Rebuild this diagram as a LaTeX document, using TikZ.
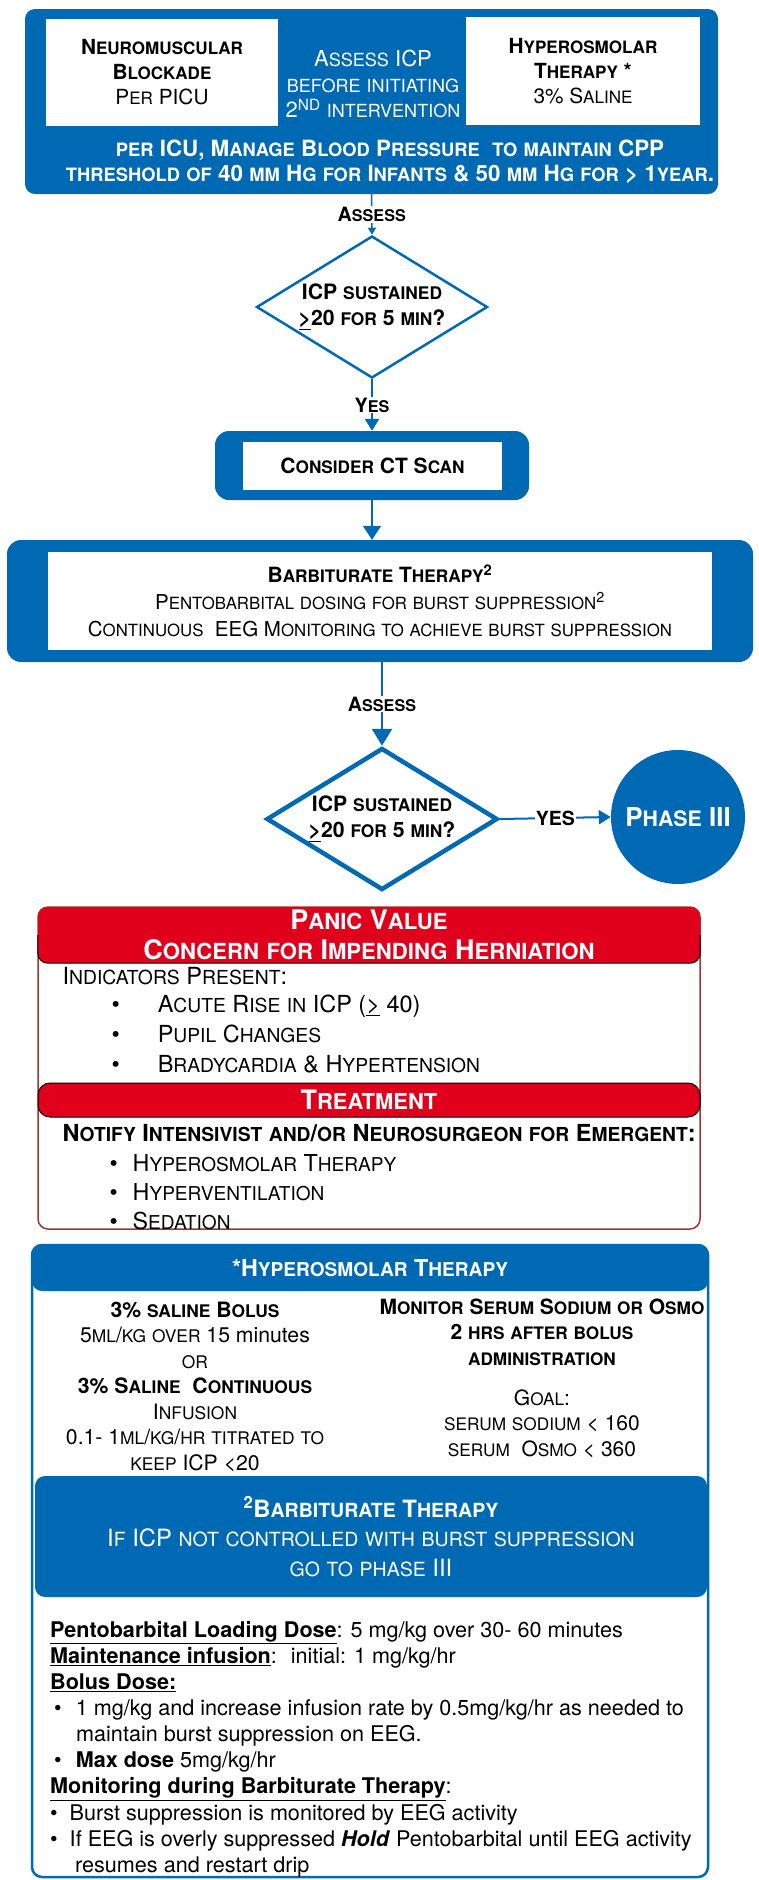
\documentclass[tikz,border=0pt]{standalone}
\usepackage{fontspec}
\setmainfont{TeX Gyre Heros}
\usepackage{tikz}
\usetikzlibrary{arrows.meta, positioning, shapes.geometric, calc}
\definecolor{icpblue}{HTML}{0069B4}
\definecolor{panicred}{HTML}{E0001B}
\definecolor{panicedge}{HTML}{A0342E}

\newcommand{\fsz}[2]{\fontsize{#1}{#2}\selectfont}
% small capitals made from scaled capitals
\newcommand{\smallsc}[1]{{\fontsize{\fpeval{0.82*\csname f@size\endcsname}}{\csname f@baselineskip\endcsname}\selectfont\MakeUppercase{#1}}}
\ExplSyntaxOn
\tl_new:N \l__icp_in_tl
\tl_new:N \l__icp_out_tl
\NewDocumentCommand \fsc { m }
  {
    \tl_set:Nn \l__icp_in_tl {#1}
    \tl_replace_all:Nnn \l__icp_in_tl { ~ } { \space }
    \tl_clear:N \l__icp_out_tl
    \tl_map_inline:Nn \l__icp_in_tl
      {
        \tl_if_single_token:nTF {##1}
          {
            \str_if_in:nnTF { abcdefghijklmnopqrstuvwxyz } {##1}
              { \tl_put_right:Nn \l__icp_out_tl { \smallsc {##1} } }
              { \tl_put_right:Nn \l__icp_out_tl {##1} }
          }
          { \tl_put_right:Nn \l__icp_out_tl { {##1} } }
      }
    \tl_use:N \l__icp_out_tl
  }
\ExplSyntaxOff

\begin{document}
\begin{tikzpicture}[x=1pt, y=-1pt,
    bluebox/.style={fill=icpblue, rounded corners=10pt, inner sep=0pt},
    whitebox/.style={fill=white, inner sep=0pt, align=center},
    lbl/.style={fill=white, inner sep=1pt, font=\fsz{19.7}{22}\bfseries},
    decision/.style={diamond, draw=icpblue, fill=white, aspect=1.63, inner sep=0pt,
        minimum width=231pt, minimum height=142pt, align=center,
        font=\fsz{21.2}{26}\bfseries},
    link/.style={draw=icpblue, line width=2pt},
    redhead/.style={fill=panicred, rounded corners=10pt, inner sep=0pt}]
    \useasboundingbox (0,0) rectangle (759,1880);

    % Top box
    \node[bluebox, minimum width=693pt, minimum height=185pt] (topbox) at (371.5,101.5) {};
    \node[whitebox, minimum width=232pt, minimum height=107pt, font=\fsz{20.8}{25}] (nmb) at (162,72.5)
        {\textbf{\fsc{Neuromuscular}}\\\textbf{\fsc{Blockade}}\\\fsc{Per PICU}};
    \node[whitebox, minimum width=234pt, minimum height=108pt, font=\fsz{20.8}{25}] (hyper) at (583,71)
        {\textbf{\fsc{Hyperosmolar}}\\\textbf{\fsc{Therapy *}}\\\fsc{3\% Saline}};
    \node[text=white, align=center, font=\fsz{22}{25.5}] (icp) at (373,84)
        {\fsc{Assess ICP\\before initiating\\2\textsuperscript{ND} intervention}};
    \node[text=white, align=center, font=\fsz{22.4}{25}\bfseries] (cpp) at (390,162)
        {\fsc{per ICU, Manage Blood Pressure \ to maintain CPP\\threshold of 40 mm Hg for Infants \& 50 mm Hg for > 1year.}};

    % First check
    \node[decision, line width=2.5pt] (dia1) at (372,307) {\fsc{ICP sustained\\\underline{>}20 for 5 min?}};
    \draw[link, line width=1.5pt, -{Triangle[width=8pt,length=7pt]}] (topbox.south) -- (dia1.north)
        node[lbl, midway] {\fsc{Assess}};

    % CT scan
    \node[bluebox, rounded corners=14pt, minimum width=314pt, minimum height=69pt] (ct) at (372,465.5) {};
    \node[whitebox, minimum width=259pt, minimum height=48pt, font=\fsz{21}{24}\bfseries] (ctin) at (372.5,466)
        {\fsc{Consider CT Scan}};
    \draw[link, line width=2.5pt, -{Triangle[width=14pt,length=12pt]}] (dia1.south) -- (ct.north)
        node[lbl, midway] {\fsc{Yes}};

    % Barbiturate therapy
    \node[bluebox, rounded corners=14pt, minimum width=746pt, minimum height=122pt] (barb) at (380,601) {};
    \node[whitebox, minimum width=664pt, minimum height=98pt, font=\fsz{20.5}{27}] (barbin) at (380,601)
        {\textbf{\fsz{21}{27}\fsc{Barbiturate Therapy}\textsuperscript{2}}\\\fsc{Pentobarbital dosing for burst suppression}\textsuperscript{2}\\
         \fsc{Continuous \ EEG Monitoring to achieve burst suppression}};
    \draw[link, line width=2pt, -{Triangle[width=18pt,length=14pt]}] (ct.south) -- (ct.south |- barb.north);

    % Second check
    \node[decision, line width=4.5pt] (dia2) at (382,819) {\fsc{ICP sustained\\\underline{>}20 for 5 min?}};
    \draw[link, line width=2.5pt, -{Triangle[width=20pt,length=17pt]}] (dia2 |- barb.south) -- (dia2.north)
        node[lbl, midway] {\fsc{Assess}};
    \node[circle, fill=icpblue, minimum size=134pt, inner sep=0pt, text=white,
        font=\fsz{26}{30}\bfseries] (phase) at (678,817) {\fsc{Phase III}};
    \draw[link, line width=2pt, -{Triangle[width=14pt,length=12pt]}] (dia2.east) -- (phase.west)
        node[fill=white, inner sep=1pt, midway, font=\fsz{19.5}{22}\bfseries] {YES};

    % Panic value
    \node[draw=panicedge, fill=white, line width=1.5pt, rounded corners=10pt,
        minimum width=662pt, minimum height=322pt] (panic) at (369,1068) {};
    \node[redhead, minimum width=662pt, minimum height=56pt, text=white, align=center,
        font=\fsz{27}{30}\bfseries] (panichead) at (369,935)
        {\fsc{Panic Value\\Concern for Impending Herniation}};
    \draw[black, line width=1pt, rounded corners=10pt] (panichead.west) |- (panichead.south) -| (panichead.east);
    \node[anchor=west, font=\fsz{23.6}{30}] (indic) at (59,976) {\fsc{Indicators Present:}};
    \node[anchor=west, align=left, font=\fsz{23.5}{30}] (signs) at (108,1034)
        {\textbullet\hspace{38pt}\fsc{Acute Rise in ICP (\underline{>} 40)}\\
         \textbullet\hspace{38pt}\fsc{Pupil Changes}\\
         \textbullet\hspace{38pt}\fsc{Bradycardia \& Hypertension}};
    \node[redhead, draw=black, line width=1pt, rounded corners=12pt, minimum width=662pt, minimum height=34pt,
        text=white, font=\fsz{26.8}{28}\bfseries] (treat) at (369,1100) {\fsc{Treatment}};
    \node[anchor=west, font=\fsz{23.5}{29}\bfseries] (notify) at (59,1133)
        {\fsc{Notify Intensivist and/or Neurosurgeon for Emergent:}};
    \node[anchor=west, align=left, font=\fsz{23.3}{29}] (steps) at (106,1192)
        {\textbullet\hspace{15pt}\fsc{Hyperosmolar Therapy}\\
         \textbullet\hspace{15pt}\fsc{Hyperventilation}\\
         \textbullet\hspace{15pt}\fsc{Sedation}};

    % Hyperosmolar therapy notes
    \node[draw=icpblue, line width=2.5pt, fill=white, rounded corners=10pt,
        minimum width=676pt, minimum height=632pt] (hyperbox) at (370,1561) {};
    \node[bluebox, minimum width=676pt, minimum height=46pt, text=white,
        font=\fsz{23.3}{26}\bfseries] (hyperhead) at (370,1268) {\fsc{*Hyperosmolar Therapy}};
    \node[align=center, font=\fsz{21.2}{25.5}] (saline) at (195,1386.5)
        {\textbf{\fsc{3\% saline Bolus}}\\\fsc{5ml/kg over 15 {minutes}\\or}\\\textbf{\fsc{3\% Saline \ Continuous}}\\
         \fsc{Infusion\\0.1- 1ml/kg/hr titrated to\\keep ICP <20}};
    \node[align=center, font=\fsz{21}{25.5}\bfseries] (monitor) at (542,1332)
        {\fsc{Monitor Serum Sodium or Osmo\\2 hrs after bolus\\administration}};
    \node[align=center, font=\fsz{21}{25.5}] (goal) at (542,1423.5)
        {\fsc{Goal:\\serum sodium < 160\\serum \ Osmo < 360}};
    \node[bluebox, minimum width=672pt, minimum height=121pt, text=white, align=center,
        font=\fsz{23.8}{29.5}] (barbnote) at (371,1536.5)
        {\textbf{\textsuperscript{2}\fsc{Barbiturate Therapy}}\\\fsc{If ICP not controlled with burst suppression\\go to phase III}};

    % Pentobarbital dosing
    \node[anchor=north west, align=left, inner sep=0pt, font=\fsz{21.6}{26.1}] (dosing) at (50,1621)
        {\underline{\textbf{Pentobarbital Loading Dose}}: 5 mg/kg over 30- 60 minutes\\
         \underline{\textbf{Maintenance infusion}}: \ initial: 1 mg/kg/hr\\
         \underline{\textbf{Bolus Dose:}}\\
         \hspace*{4pt}\textbullet\hspace{14pt}1 mg/kg and increase infusion rate by 0.5mg/kg/hr as needed to\\
         \hspace*{26pt}maintain burst suppression on EEG.\\
         \hspace*{4pt}\textbullet\hspace{14pt}\textbf{Max dose} 5mg/kg/hr\\
         \underline{\textbf{Monitoring during Barbiturate Therapy}}:\\
         \textbullet\hspace{12pt}Burst suppression is monitored by EEG activity\\
         \textbullet\hspace{12pt}If EEG is overly suppressed \textbf{\textit{Hold}} Pentobarbital until EEG activity\\
         \hspace*{25pt}resumes and restart drip};
\end{tikzpicture}
\end{document}
